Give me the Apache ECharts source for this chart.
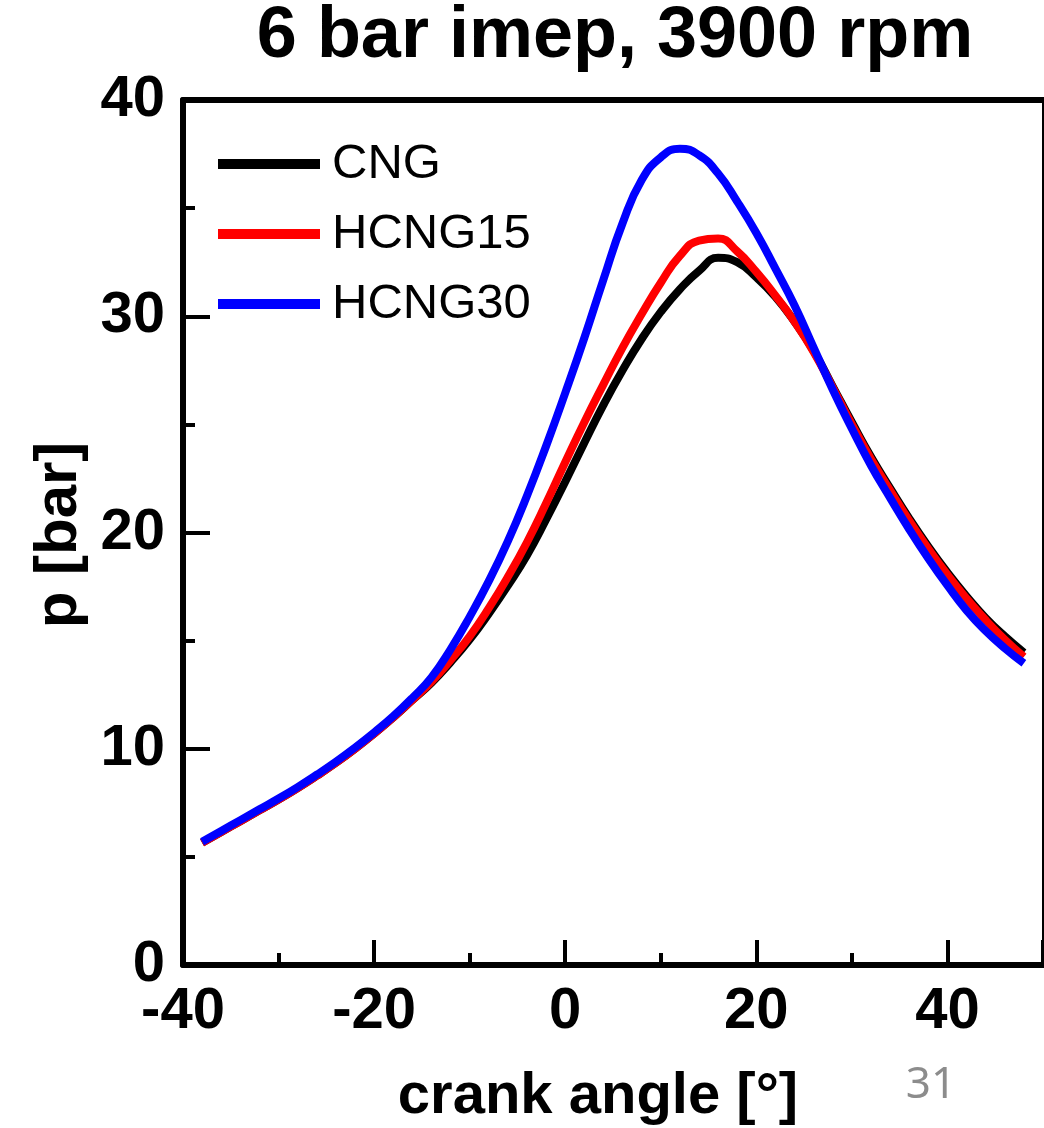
<!DOCTYPE html>
<html>
<head>
<meta charset="utf-8">
<script src="https://cdn.jsdelivr.net/npm/echarts@6/dist/echarts.min.js"></script>
<style>
html,body{margin:0;padding:0;background:#fff;}
#chart{width:1044px;height:1128px;}
</style>
</head>
<body>
<div id="chart"></div>
<script>
// crank angle [deg]
var angles = [-38,-36,-34,-32,-30,-28,-26,-24,-22,-20,-18,-16,-14,-12,-10,-8,-6,-4,-2,0,2,4,6,8,10,12,14,16,18,20,22,24,26,28,30,32,34,36,38,40,42,44,46,48];
// pressure [bar]
var cng    = [5.65,6.15,6.65,7.15,7.65,8.18,8.75,9.35,10.0,10.7,11.45,12.25,13.05,14.0,15.05,16.25,17.55,18.95,20.6,22.35,24.15,25.9,27.5,28.95,30.2,31.25,32.1,32.7,32.5,31.8,30.9,29.75,28.4,26.75,25.1,23.5,22.05,20.65,19.35,18.15,17.05,16.05,15.2,14.45];
var hcng15 = [5.65,6.15,6.65,7.15,7.65,8.18,8.75,9.35,10.0,10.7,11.45,12.25,13.1,14.1,15.2,16.5,17.95,19.55,21.35,23.25,25.1,26.85,28.55,30.1,31.55,32.8,33.5,33.6,33.0,32.05,30.95,29.75,28.35,26.7,25.0,23.4,21.95,20.55,19.25,18.05,16.95,15.95,15.05,14.25];
var hcng30 = [5.7,6.2,6.7,7.2,7.7,8.23,8.8,9.4,10.05,10.75,11.5,12.35,13.3,14.6,16.1,17.75,19.6,21.7,24.0,26.45,29.0,31.7,34.3,36.3,37.35,37.75,37.45,36.6,35.3,33.85,32.2,30.5,28.55,26.6,24.8,23.1,21.6,20.15,18.8,17.55,16.4,15.45,14.65,13.95];
var seriesNames = ['CNG','HCNG15','HCNG30'];
var seriesColors = ['#000000','#ff0000','#0000ff'];
var xTicks = {min:-40, max:50, interval:20};
var yTicks = {min:0, max:40, interval:10};

function pairs(ys){ return angles.map(function(a,i){ return [a, ys[i]]; }); }

var chart = echarts.init(document.getElementById('chart'), null, {renderer:'canvas'});
var FONT = 'Liberation Sans, Arial, sans-serif';
var dataSets = [cng, hcng15, hcng30];

var option = {
  animation: false,
  backgroundColor: '#fff',
  grid: {left:183, right:1, top:100, bottom:163, containLabel:false},
  legend: {
    orient: 'vertical',
    left: 213, top: 134,
    icon: 'rect',
    itemWidth: 102, itemHeight: 10,
    itemGap: 20,
    data: seriesNames,
    textStyle: {fontFamily: FONT, fontSize: 49, color:'#000', lineHeight: 50, padding:[0,0,0,7]}
  },
  xAxis: [{
    type: 'value', min: xTicks.min, max: xTicks.max, interval: xTicks.interval,
    axisLine: {show:true, onZero:false, lineStyle:{color:'#000', width:6}},
    axisTick: {show:true, inside:true, length:25, lineStyle:{color:'#000', width:4}},
    minorTick: {show:true, splitNumber:2, length:12, lineStyle:{color:'#000', width:4}},
    splitLine: {show:false},
    axisLabel: {margin:18, fontFamily:FONT, fontWeight:'bold', fontSize:58, color:'#000', showMaxLabel:false}
  },{
    type: 'value', position:'top', min: xTicks.min, max: xTicks.max,
    axisLine: {show:true, onZero:false, lineStyle:{color:'#000', width:6}},
    axisTick: {show:false}, axisLabel:{show:false}, splitLine:{show:false}
  }],
  yAxis: [{
    type: 'value', min: yTicks.min, max: yTicks.max, interval: yTicks.interval,
    axisLine: {show:true, onZero:false, lineStyle:{color:'#000', width:6}},
    axisTick: {show:true, inside:true, length:27, lineStyle:{color:'#000', width:4}},
    minorTick: {show:true, splitNumber:2, length:12, lineStyle:{color:'#000', width:4}},
    splitLine: {show:false},
    axisLabel: {margin:18, fontFamily:FONT, fontWeight:'bold', fontSize:58, color:'#000'}
  },{
    type: 'value', position:'right', min: yTicks.min, max: yTicks.max,
    axisLine: {show:true, onZero:false, lineStyle:{color:'#000', width:2}},
    axisTick: {show:false}, axisLabel:{show:false}, splitLine:{show:false}
  }],
  series: seriesNames.map(function(n,i){
    return {
      name: n, type:'line', xAxisIndex:0, yAxisIndex:0,
      data: pairs(dataSets[i]),
      showSymbol:false, smooth:0.5,
      lineStyle:{color:seriesColors[i], width:8},
      itemStyle:{color:seriesColors[i]}
    };
  }),
  graphic: [
    {type:'text', x:615, y:37, style:{text:'6 bar imep, 3900 rpm', font:'bold 72px Liberation Sans, Arial, sans-serif', fill:'#000', textAlign:'center', textVerticalAlign:'middle'}},
    {type:'text', x:598, y:1097, style:{text:'crank angle [°]', font:'bold 58px Liberation Sans, Arial, sans-serif', fill:'#000', textAlign:'center', textVerticalAlign:'middle'}},
    {type:'text', x:59, y:535, rotation:Math.PI/2, style:{text:'p [bar]', font:'bold 60px Liberation Sans, Arial, sans-serif', fill:'#000', textAlign:'center', textVerticalAlign:'middle'}},
    {type:'text', x:931, y:1085, style:{text:'31', font:'44px Noto Sans, sans-serif', fill:'#8c8c8c', textAlign:'center', textVerticalAlign:'middle'}}
  ]
};
chart.setOption(option);
</script>
</body>
</html>
